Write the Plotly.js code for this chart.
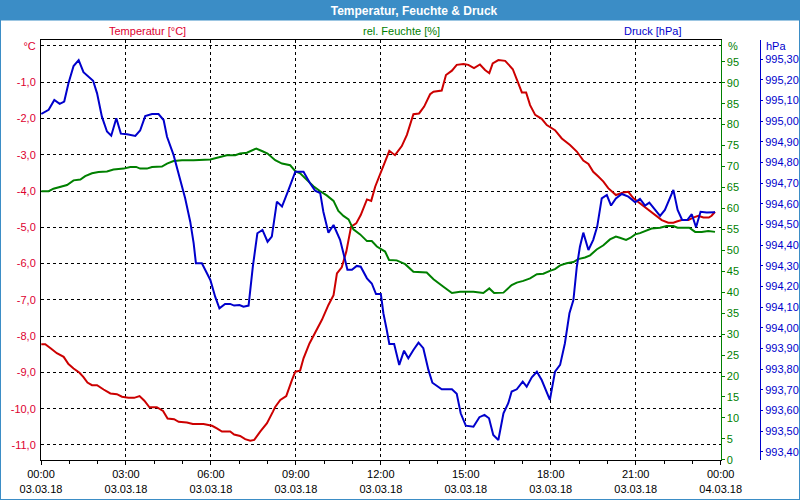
<!DOCTYPE html>
<html>
<head>
<meta charset="utf-8">
<script src="https://cdn.plot.ly/plotly-3.0.1.min.js"></script>
<style>
  html, body { margin: 0; padding: 0; background: #ffffff; }
  #wrap { position: relative; width: 800px; height: 500px; }
  #chart { width: 800px; height: 500px; }
  #frame { position: absolute; left: 0; top: 0; width: 798px; height: 498px; border: 1px solid #3b8dc6; pointer-events: none; }
</style>
</head>
<body>
<div id="wrap"><div id="chart"></div><div id="frame"></div></div>
<script>
// ---- data (hours since 03.03.18 00:00) ----
const tempHours = [0.01,0.15,0.35,0.56,0.80,0.97,1.15,1.36,1.50,1.64,1.80,1.98,2.21,2.45,2.68,2.86,3.09,3.29,3.48,3.65,3.83,4.09,4.31,4.47,4.70,4.86,5.15,5.36,5.74,6.04,6.21,6.39,6.68,6.82,7.03,7.21,7.39,7.53,7.74,7.98,8.19,8.27,8.45,8.66,8.86,8.98,9.15,9.27,9.48,9.68,9.92,10.15,10.33,10.45,10.62,10.78,10.95,11.13,11.29,11.51,11.66,11.80,12.00,12.15,12.30,12.50,12.74,12.92,13.15,13.35,13.53,13.74,13.86,14.15,14.30,14.51,14.68,14.92,15.09,15.29,15.50,15.68,15.83,15.95,16.15,16.39,16.66,16.80,16.98,17.13,17.27,17.45,17.68,17.86,18.15,18.39,18.68,18.92,19.15,19.33,19.50,19.68,19.86,20.03,20.30,20.56,20.74,20.92,21.15,21.39,21.62,21.92,22.15,22.33,22.45,22.62,22.86,23.03,23.21,23.39,23.58,23.68,23.80];
const tempValues = [-8.22,-8.22,-8.34,-8.47,-8.57,-8.77,-8.89,-9.01,-9.13,-9.28,-9.35,-9.35,-9.47,-9.58,-9.60,-9.67,-9.70,-9.70,-9.65,-9.78,-9.96,-9.96,-10.06,-10.27,-10.29,-10.36,-10.38,-10.42,-10.42,-10.47,-10.54,-10.63,-10.63,-10.71,-10.75,-10.84,-10.88,-10.86,-10.63,-10.40,-10.08,-9.95,-9.76,-9.65,-9.21,-8.98,-8.95,-8.61,-8.20,-7.92,-7.55,-7.14,-6.87,-6.27,-6.10,-5.67,-4.98,-4.89,-4.66,-4.23,-4.27,-3.88,-3.51,-3.19,-2.89,-3.01,-2.76,-2.45,-1.88,-1.86,-1.67,-1.33,-1.26,-1.23,-0.80,-0.68,-0.52,-0.50,-0.52,-0.61,-0.51,-0.66,-0.75,-0.48,-0.39,-0.41,-0.64,-0.90,-1.28,-1.28,-1.63,-1.90,-2.01,-2.18,-2.32,-2.55,-2.73,-2.91,-3.16,-3.25,-3.47,-3.60,-3.74,-3.92,-4.11,-4.04,-4.02,-4.20,-4.34,-4.48,-4.63,-4.80,-4.87,-4.87,-4.84,-4.80,-4.80,-4.73,-4.68,-4.73,-4.73,-4.68,-4.57];

const humHours = [0.01,0.27,0.44,0.74,0.92,1.15,1.39,1.56,1.80,2.03,2.33,2.56,2.92,3.15,3.36,3.50,3.74,3.92,4.27,4.45,4.68,4.98,5.39,5.98,6.33,6.56,6.86,7.03,7.27,7.45,7.60,7.80,8.00,8.27,8.51,8.80,8.98,9.15,9.39,9.62,9.86,10.09,10.33,10.50,10.68,10.86,11.03,11.27,11.51,11.68,11.86,12.15,12.29,12.56,12.86,13.15,13.62,13.86,14.21,14.51,14.80,15.27,15.62,15.83,16.00,16.33,16.62,16.80,17.03,17.27,17.51,17.74,17.97,18.15,18.33,18.56,18.80,18.97,19.21,19.39,19.62,19.86,20.09,20.30,20.44,20.66,20.82,20.98,21.15,21.33,21.56,21.86,22.09,22.33,22.48,22.72,22.89,23.10,23.33,23.56,23.80];
const humValues = [64.1,64.1,64.7,65.3,65.6,66.7,66.9,67.7,68.4,68.7,68.8,69.3,69.5,69.9,69.9,69.5,69.5,69.9,70.0,70.7,71.3,71.5,71.5,71.7,72.3,72.7,72.7,73.1,73.3,73.9,74.3,73.7,73.1,71.5,70.7,70.3,68.9,68.4,66.9,65.3,64.1,63.1,61.8,59.4,58.2,57.4,55.0,53.8,52.2,52.2,50.9,49.7,47.7,47.6,46.7,44.9,44.7,43.1,41.3,39.8,40.1,40.1,39.8,40.9,39.8,39.9,41.7,42.3,42.7,43.3,44.3,44.4,45.1,45.5,46.4,46.9,47.2,47.9,48.3,48.8,50.2,51.2,52.6,53.3,53.0,52.5,53.0,53.8,54.1,54.6,55.2,55.4,55.8,55.8,55.4,55.4,55.4,54.4,54.4,54.6,54.4];

const pressHours = [0.01,0.27,0.47,0.66,0.82,0.97,1.15,1.33,1.50,1.68,1.84,1.98,2.15,2.33,2.48,2.66,2.82,3.04,3.33,3.50,3.68,3.92,4.15,4.33,4.45,4.68,4.86,5.09,5.27,5.39,5.47,5.68,5.98,6.15,6.30,6.50,6.68,6.82,7.01,7.15,7.33,7.48,7.64,7.82,8.00,8.15,8.33,8.51,8.74,8.98,9.27,9.50,9.68,9.86,9.97,10.15,10.33,10.56,10.68,10.82,10.98,11.15,11.29,11.51,11.68,11.83,12.00,12.09,12.21,12.30,12.47,12.65,12.82,12.97,13.15,13.33,13.50,13.68,13.82,14.15,14.51,14.68,14.82,15.00,15.27,15.48,15.66,15.82,15.97,16.15,16.33,16.50,16.62,16.80,17.01,17.15,17.33,17.51,17.68,17.83,17.97,18.15,18.33,18.50,18.66,18.80,18.92,19.03,19.15,19.33,19.50,19.64,19.80,19.98,20.13,20.30,20.51,20.74,20.98,21.15,21.33,21.48,21.65,21.86,22.03,22.19,22.33,22.48,22.64,22.82,22.98,23.13,23.29,23.51,23.80];
const pressValues = [995.035,995.055,995.103,995.084,995.095,995.184,995.267,995.296,995.237,995.213,995.196,995.135,995.022,994.950,994.930,995.014,994.940,994.937,994.929,994.955,995.025,995.035,995.035,995.006,994.925,994.837,994.748,994.627,994.514,994.410,994.313,994.313,994.232,994.151,994.095,994.116,994.116,994.108,994.111,994.103,994.108,994.296,994.458,994.474,994.417,994.442,994.611,994.587,994.668,994.756,994.756,994.700,994.664,994.652,994.562,994.461,994.498,994.426,994.361,994.281,994.281,994.300,994.296,994.240,994.215,994.164,994.164,994.071,993.990,993.922,993.922,993.821,993.890,993.853,993.893,993.929,993.902,993.797,993.735,993.703,993.703,993.681,993.587,993.527,993.522,993.568,993.579,993.563,993.482,993.458,993.587,993.636,993.692,993.703,993.740,993.716,993.761,993.788,993.748,993.700,993.652,993.788,993.821,993.926,994.071,994.135,994.296,994.393,994.461,994.377,994.426,994.490,994.627,994.643,994.592,994.627,994.648,994.635,994.608,994.624,994.592,994.606,994.579,994.542,994.571,994.622,994.668,994.571,994.522,994.522,994.550,994.487,994.562,994.558,994.560];

// ---- tick labels ----
const timeTickVals = [0,3,6,9,12,15,18,21,24];
const timeTickText = ['00:00<br>03.03.18','03:00<br>03.03.18','06:00<br>03.03.18','09:00<br>03.03.18','12:00<br>03.03.18','15:00<br>03.03.18','18:00<br>03.03.18','21:00<br>03.03.18','00:00<br>04.03.18'];
const tempTickVals = [0,-1,-2,-3,-4,-5,-6,-7,-8,-9,-10,-11];
const tempTickText = ['°C','-1,0','-2,0','-3,0','-4,0','-5,0','-6,0','-7,0','-8,0','-9,0','-10,0','-11,0'];
const humTickVals = [0,5,10,15,20,25,30,35,40,45,50,55,60,65,70,75,80,85,90,95];
const pressTickVals = [993.4,993.5,993.6,993.7,993.8,993.9,994.0,994.1,994.2,994.3,994.4,994.5,994.6,994.7,994.8,994.9,995.0,995.1,995.2,995.3];
const pressTickText = pressTickVals.map(v => v.toFixed(2).replace('.', ','));

const FONT = 'Liberation Sans, Arial, sans-serif';
const RED_TXT = '#dd0030', GREEN = '#008000', BLUE = '#0000cc', RED = '#cc0000';

const traces = [
  {x: humHours, y: humValues, type: 'scatter', mode: 'lines', yaxis: 'y2',
   line: {color: GREEN, width: 2}, name: 'rel. Feuchte [%]'},
  {x: tempHours, y: tempValues, type: 'scatter', mode: 'lines', yaxis: 'y',
   line: {color: RED, width: 2}, name: 'Temperatur [°C]'},
  {x: pressHours, y: pressValues, type: 'scatter', mode: 'lines', yaxis: 'y3',
   line: {color: BLUE, width: 2}, name: 'Druck [hPa]'}
];

const layout = {
  width: 800, height: 500,
  margin: {l: 41, r: 40, t: 40, b: 40, pad: 0},
  paper_bgcolor: '#ffffff', plot_bgcolor: '#ffffff',
  showlegend: false,
  font: {family: FONT, size: 11, color: '#000'},
  title: {text: '<b>Temperatur, Feuchte & Druck</b>', font: {family: FONT, size: 12, color: '#ffffff'},
          x: 0.5175, xref: 'container', xanchor: 'center', y: 0.979, yref: 'container', yanchor: 'middle'},
  xaxis: {domain: [0, 0.9453], range: [0, 24], tickvals: timeTickVals, ticktext: timeTickText,
          showline: true, linecolor: '#000', linewidth: 1, mirror: true,
          ticks: 'outside', ticklen: 4, tickcolor: '#000',
          showgrid: true, gridcolor: '#000', gridwidth: 1, griddash: '3px,3px',
          zeroline: false, tickfont: {family: FONT, size: 11, color: '#000'},
          minor: {dtick: 1, ticks: 'outside', ticklen: 3, tickcolor: '#000', showgrid: false}},
  yaxis: {range: [-11.414, 0.165], tickvals: tempTickVals, ticktext: tempTickText,
          showline: true, linecolor: '#000', linewidth: 1,
          ticks: '', showgrid: true, gridcolor: '#000', gridwidth: 1, griddash: '3px,3px',
          zeroline: false, ticklabelstandoff: 2, tickfont: {family: FONT, size: 11, color: RED_TXT}},
  yaxis2: {overlaying: 'y', side: 'right', anchor: 'x', range: [-0.05, 100.2], tickvals: humTickVals,
           showline: true, linecolor: GREEN, linewidth: 1, ticks: 'outside', ticklen: 3, tickcolor: GREEN,
           showgrid: false, zeroline: false, ticklabelstandoff: 0, tickfont: {family: FONT, size: 11, color: GREEN}},
  yaxis3: {overlaying: 'y', side: 'right', anchor: 'free', position: 1, range: [993.361, 995.393],
           tickvals: pressTickVals, ticktext: pressTickText,
           showline: true, linecolor: BLUE, linewidth: 1, ticks: 'outside', ticklen: 2, tickcolor: BLUE,
           showgrid: false, zeroline: false, ticklabelstandoff: 0, tickfont: {family: FONT, size: 11, color: BLUE}},
  shapes: [
    {type: 'rect', xref: 'paper', yref: 'paper', x0: -0.06, x1: 1.06, y0: 1.0464, y1: 1.1, fillcolor: '#3b8dc6', line: {width: 0}, layer: 'below'}
  ],
  annotations: [
    {text: 'Temperatur [°C]', xref: 'paper', yref: 'paper', x: 0.1488, y: 1.0214, xanchor: 'center', yanchor: 'middle', showarrow: false, font: {family: FONT, size: 11, color: RED_TXT}},
    {text: 'rel. Feuchte [%]', xref: 'paper', yref: 'paper', x: 0.502, y: 1.0214, xanchor: 'center', yanchor: 'middle', showarrow: false, font: {family: FONT, size: 11, color: GREEN}},
    {text: 'Druck [hPa]', xref: 'paper', yref: 'paper', x: 0.850, y: 1.0214, xanchor: 'center', yanchor: 'middle', showarrow: false, font: {family: FONT, size: 11, color: BLUE}},
    {text: '%', xref: 'paper', yref: 'paper', x: 0.9527, y: 0.9864, xanchor: 'left', yanchor: 'middle', showarrow: false, font: {family: FONT, size: 11, color: GREEN}},
    {text: 'hPa', xref: 'paper', yref: 'paper', x: 1.0056, y: 0.9864, xanchor: 'left', yanchor: 'middle', showarrow: false, font: {family: FONT, size: 11, color: BLUE}}
  ]
};

Plotly.newPlot('chart', traces, layout, {staticPlot: true, displayModeBar: false});
</script>
</body>
</html>
